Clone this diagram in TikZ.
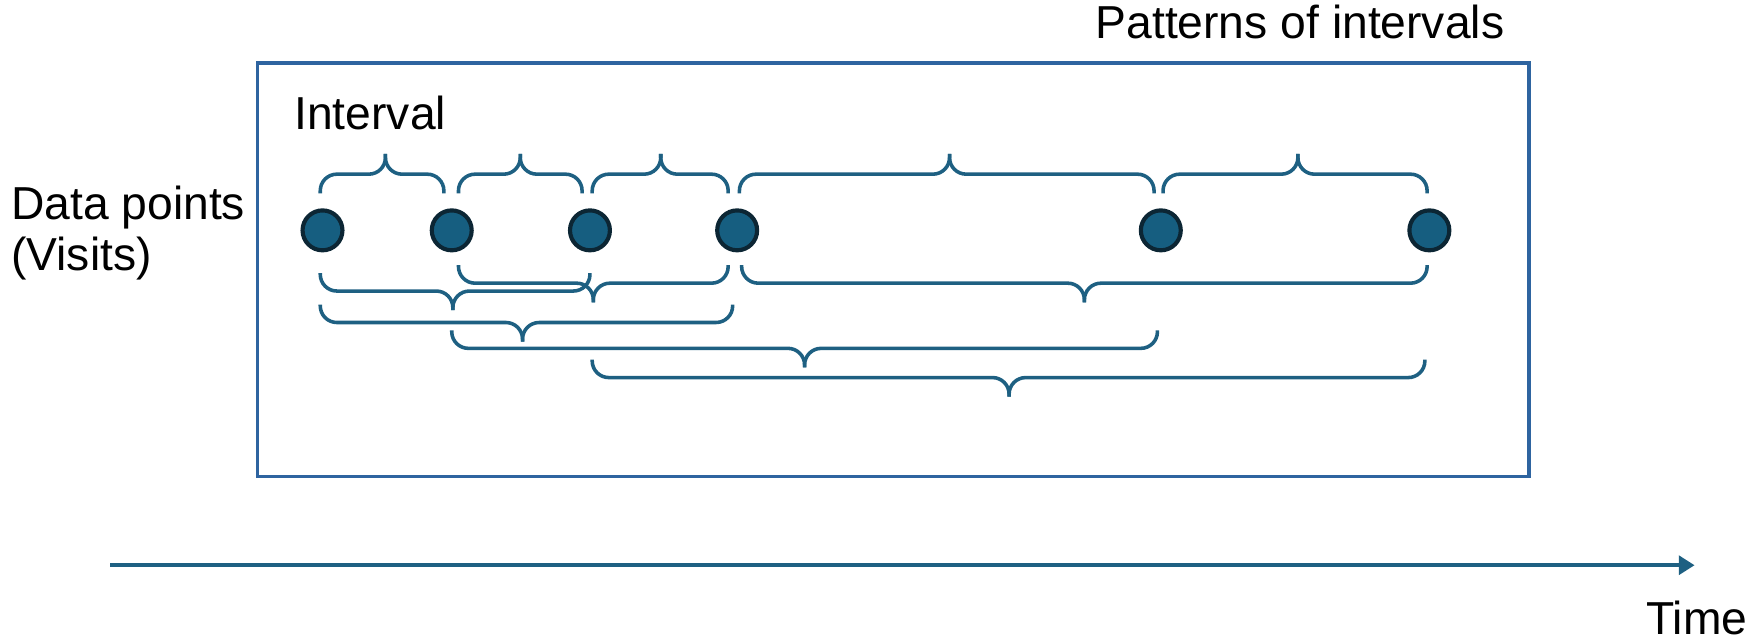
\documentclass[tikz,border=0pt]{standalone}
\usepackage{fontspec}
\setmainfont{Liberation Sans}
\usetikzlibrary{arrows.meta}
\definecolor{boxblue}{RGB}{46,100,160}
\definecolor{brblue}{RGB}{30,96,130}
\definecolor{dotfill}{RGB}{22,94,128}
\definecolor{dotedge}{RGB}{12,38,52}
% x1, x-tip, x2, y of the ends
\newcommand\UpBrace[4]{%
  \draw[ibrace] (#1,#4) |- (#2,#4-17) -- (#2,#4-35);
  \draw[ibrace] (#2,#4-35) -- (#2,#4-17) -| (#3,#4);}
\newcommand\DownBrace[4]{%
  \draw[ibrace] (#1,#4) |- (#2,#4+16) -- (#2,#4+33);
  \draw[ibrace] (#2,#4+33) -- (#2,#4+16) -| (#3,#4);}
\begin{document}
\begin{tikzpicture}[x=0.01cm, y=-0.01cm,
  lbl/.style={font=\fontsize{11.7}{14.4}\selectfont, inner sep=0pt, outer sep=0pt, anchor=base west},
  ibrace/.style={draw=brblue, line width=0.9pt, rounded corners=4.2pt},
  boxst/.style={draw=boxblue, line width=0.9pt, inner sep=0pt, outer sep=0pt, anchor=north west},
  dot/.style={circle, fill=dotfill, draw=dotedge, line width=1.05pt, minimum size=0.355cm, inner sep=0pt},
  tarrow/.style={draw=brblue, line width=0.9pt, -{Triangle[length=4pt,width=4.8pt]}}]
\useasboundingbox (0,0) rectangle (1568,570);
% outer box
\node[boxst, minimum width=11.31cm, minimum height=3.68cm] (box) at (229,56) {};
% labels
\node[lbl] (pat) at (975,34) {Patterns of intervals};
\node[lbl] (intv) at (262,115) {Interval};
\node[lbl] (dp) at (10,195) {Data points};
\node[lbl] (vis) at (10,241) {(Visits)};
\node[lbl] (time) at (1465,565) {Time};
% time axis
\coordinate (t0) at (98,503);
\coordinate (t1) at (1508,503);
\draw[tarrow] (t0) -- (t1);
% braces above
\UpBrace{285}{343}{395}{172}
\UpBrace{408}{463}{518}{172}
\UpBrace{527}{588}{648}{172}
\UpBrace{658}{845}{1027}{172}
\UpBrace{1035}{1155}{1270}{172}
% braces below
\DownBrace{408}{528}{648}{236}
\DownBrace{660}{965}{1270}{236}
\DownBrace{285}{403}{525}{243}
\DownBrace{285}{465}{652}{271}
\DownBrace{402}{716}{1030}{294}
\DownBrace{527}{898}{1268}{320}
% data points
\foreach \i/\x in {1/287,2/402,3/525,4/656,5/1033,6/1272}
  \node[dot] (d\i) at (\x,205) {};
\end{tikzpicture}
\end{document}
